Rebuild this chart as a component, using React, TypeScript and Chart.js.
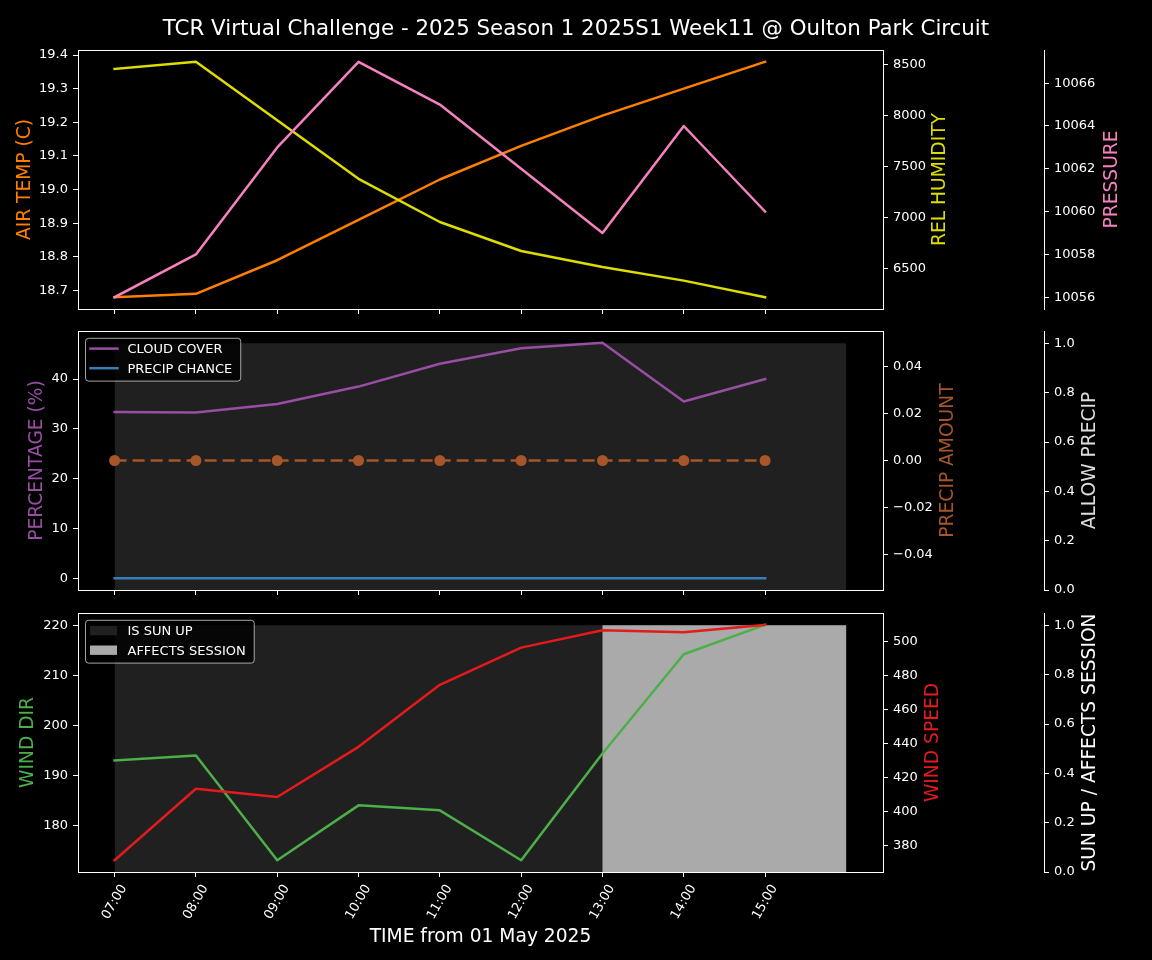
import React, { useEffect, useRef } from 'react';
import { Chart, registerables } from 'chart.js';

Chart.register(...registerables);

const FONT = "'DejaVu Sans', 'Liberation Sans', sans-serif";

// ---- categories ----
const timeLabels = ['07:00', '08:00', '09:00', '10:00', '11:00', '12:00', '13:00', '14:00', '15:00'];
const shadeLabels = ['07:00', '08:00', '09:00', '10:00', '11:00', '12:00', '13:00', '14:00', '15:00', '16:00'];

// ---- panel 1 ----
const airTemp = [18.68, 18.69, 18.79, 18.91, 19.03, 19.13, 19.22, 19.3, 19.38];
const relHumidity = [8458, 8529, 7955, 7379, 6955, 6670, 6513, 6379, 6216];
const pressure = [10056, 10058, 10063, 10067, 10065, 10062, 10059, 10064, 10060];

// ---- panel 2 ----
const cloudCover = [33.4, 33.3, 35.0, 38.5, 43.1, 46.2, 47.3, 35.5, 40.0];
const precipChance = [0, 0, 0, 0, 0, 0, 0, 0, 0];
const precipAmount = [0, 0, 0, 0, 0, 0, 0, 0, 0];
const allowPrecip = [1, 1, 1, 1, 1, 1, 1, 1, 1, 1];

// ---- panel 3 ----
const windDir = [193, 194, 173, 184, 183, 173, 194.4, 214.3, 220.2];
const windSpeed = [371.5, 413.4, 408.6, 438.0, 474.4, 496.2, 506.4, 505.2, 509.6];
const isSunUp = [1, 1, 1, 1, 1, 1, 1, 1, 1, 1];
const affectsSession = [0, 0, 0, 0, 0, 0, 1, 1, 1, 1];

// ---- tick values ----
const airTempTicks = [18.7, 18.8, 18.9, 19.0, 19.1, 19.2, 19.3, 19.4];
const humidityTicks = [6500, 7000, 7500, 8000, 8500];
const pressureTicks = [10056, 10058, 10060, 10062, 10064, 10066];
const percentTicks = [0, 10, 20, 30, 40];
const precipAmountTicks = [-0.04, -0.02, 0, 0.02, 0.04];
const unitTicks = [0, 0.2, 0.4, 0.6, 0.8, 1.0];
const windDirTicks = [180, 190, 200, 210, 220];
const windSpeedTicks = [380, 400, 420, 440, 460, 480, 500];

const TITLE = 'TCR Virtual Challenge - 2025 Season 1 2025S1 Week11 @ Oulton Park Circuit';
const X_TITLE = 'TIME from 01 May 2025';

const LW = 2.5;

function autoRange(values: number[]): [number, number] {
  let lo = Math.min(...values);
  let hi = Math.max(...values);
  if (hi - lo === 0) {
    lo -= 0.05;
    hi += 0.05;
  }
  const r = hi - lo;
  return [lo - 0.05 * r, hi + 0.05 * r];
}

const pts = (vals: number[]) => vals.map((y, i) => ({ x: i, y }));

const fmt = (d: number) => (v: number) => {
  const s = Math.abs(v).toFixed(d);
  return v < -1e-12 ? '\u2212' + s : s;
};

function yAxis(pos: 'left' | 'right', range: [number, number], ticks: number[], f: (v: number) => string, width: number, weight: number, border = false) {
  return {
    type: 'linear',
    position: pos,
    min: range[0],
    max: range[1],
    bounds: 'data',
    weight,
    afterBuildTicks: (s: any) => {
      s.ticks = ticks.map((v) => ({ value: v }));
    },
    afterFit: (s: any) => {
      s.width = width;
      s.paddingTop = 0;
      s.paddingBottom = 0;
    },
    ticks: { color: '#ffffff', font: { family: FONT, size: 13 }, padding: 5, autoSkip: false, callback: (v: any) => f(Number(v)) },
    grid: { display: true, drawOnChartArea: false, drawTicks: true, tickLength: 5, color: '#ffffff', lineWidth: 1 },
    border: { display: border, color: '#ffffff', width: 1 },
  };
}

function xAxis(height: number) {
  const r = autoRange(shadeLabels.map((_, i) => i));
  return {
    type: 'linear',
    position: 'bottom',
    min: r[0],
    max: r[1],
    bounds: 'data',
    afterBuildTicks: (s: any) => {
      s.ticks = timeLabels.map((_, i) => ({ value: i }));
    },
    afterFit: (s: any) => {
      s.height = height;
      s.paddingLeft = 0;
      s.paddingRight = 0;
    },
    ticks: { display: false, autoSkip: false },
    grid: { display: true, drawOnChartArea: false, drawTicks: true, tickLength: 5, color: '#ffffff', lineWidth: 1 },
    border: { display: false },
  };
}

function line(label: string, data: number[], color: string, yAxisID: string, order: number, extra: any = {}) {
  return {
    label,
    data: pts(data),
    borderColor: color,
    backgroundColor: color,
    yAxisID,
    xAxisID: 'x',
    order,
    borderWidth: LW,
    pointRadius: 0,
    fill: false,
    tension: 0,
    borderJoinStyle: 'round',
    borderCapStyle: 'square',
    ...extra,
  };
}

function shade(label: string, data: number[], color: string, yAxisID: string, order: number) {
  return {
    label,
    data: pts(data),
    borderColor: 'rgba(0,0,0,0)',
    backgroundColor: color,
    borderWidth: 0,
    pointRadius: 0,
    fill: 'origin',
    stepped: 'before',
    yAxisID,
    xAxisID: 'x',
    order,
  };
}

type Decor = {
  axisTitles: { id: string; text: string; color: string; dx: number }[];
  legend?: { idx: number[]; kind: 'line' | 'patch' };
  title?: boolean;
  xLabels?: boolean;
};

function decorPlugin(d: Decor) {
  return {
    id: 'decor',
    afterDraw(chart: any) {
      const ctx: CanvasRenderingContext2D = chart.ctx;
      const ca = chart.chartArea;
      // frame
      ctx.save();
      ctx.strokeStyle = '#ffffff';
      ctx.lineWidth = 1;
      const l = Math.round(ca.left), t = Math.round(ca.top), r = Math.round(ca.right), b = Math.round(ca.bottom);
      ctx.strokeRect(l + 0.5, t + 0.5, r - l, b - t);
      ctx.restore();

      // axis titles
      const afs = 18.67;
      d.axisTitles.forEach((a) => {
        const sc = chart.scales[a.id];
        ctx.save();
        ctx.font = `${afs}px ${FONT}`;
        ctx.fillStyle = a.color;
        ctx.textAlign = 'center';
        ctx.textBaseline = 'alphabetic';
        ctx.translate(sc.left + a.dx + 0.3645 * afs, (ca.top + ca.bottom) / 2);
        ctx.rotate(-Math.PI / 2);
        ctx.fillText(a.text, 0, 0);
        ctx.restore();
      });

      // legend
      if (d.legend) {
        const fs = 13;
        ctx.save();
        ctx.font = `${fs}px ${FONT}`;
        const ds = d.legend.idx.map((i) => chart.data.datasets[i]);
        const textX = ca.left + 49.5;
        const maxW = Math.max(...ds.map((x: any) => ctx.measureText(x.label).width));
        const bx = ca.left + 7.5;
        const by = ca.top + 7.3;
        const bw = textX + maxW + 8.5 - bx;
        const bh = 42.8;
        ctx.beginPath();
        (ctx as any).roundRect(bx, by, bw, bh, 3);
        ctx.fillStyle = 'rgba(0,0,0,0.8)';
        ctx.fill();
        ctx.strokeStyle = 'rgba(204,204,204,0.8)';
        ctx.lineWidth = 1;
        ctx.stroke();
        ds.forEach((x: any, k: number) => {
          const ry = ca.top + 17.6 + k * 19.6;
          if (d.legend!.kind === 'line') {
            ctx.strokeStyle = x.borderColor;
            ctx.lineWidth = LW;
            ctx.beginPath();
            ctx.moveTo(ca.left + 11.3, ry);
            ctx.lineTo(ca.left + 40.7, ry);
            ctx.stroke();
          } else {
            ctx.fillStyle = x.backgroundColor;
            ctx.fillRect(ca.left + 12, ry - 4.7, 27, 9.4);
          }
          ctx.fillStyle = '#ffffff';
          ctx.textAlign = 'left';
          ctx.textBaseline = 'alphabetic';
          ctx.fillText(x.label, textX, ry + 0.3645 * fs);
        });
        ctx.restore();
      }

      // figure title
      if (d.title) {
        ctx.save();
        ctx.font = `21.33px ${FONT}`;
        ctx.fillStyle = '#ffffff';
        ctx.textAlign = 'center';
        ctx.textBaseline = 'alphabetic';
        ctx.fillText(TITLE, chart.width / 2, 35);
        ctx.restore();
      }

      // x tick labels + x title
      if (d.xLabels) {
        const xs = chart.scales.x;
        ctx.save();
        ctx.font = `13px ${FONT}`;
        ctx.fillStyle = '#ffffff';
        ctx.textAlign = 'center';
        ctx.textBaseline = 'middle';
        const ang = Math.PI / 3;
        const h = 13 * 1.164;
        const top = ca.bottom + 10;
        timeLabels.forEach((lab, i) => {
          const px = xs.getPixelForValue(i);
          const w = ctx.measureText(lab).width;
          const bh = w * Math.sin(ang) + h * Math.cos(ang);
          ctx.save();
          ctx.translate(px, top + bh / 2);
          ctx.rotate(-ang);
          ctx.fillText(lab, 0, 0);
          ctx.restore();
        });
        ctx.font = `18.67px ${FONT}`;
        ctx.textBaseline = 'alphabetic';
        ctx.fillText(X_TITLE, (ca.left + ca.right) / 2, ca.bottom + 69.5);
        ctx.restore();
      }
    },
  };
}

function baseOptions(padTop: number, xHeight: number, scales: any) {
  return {
    responsive: false,
    maintainAspectRatio: false,
    animation: false,
    devicePixelRatio: 1,
    events: [],
    layout: { padding: { top: padTop, left: 0, right: 0, bottom: 0 } },
    plugins: { legend: { display: false }, tooltip: { enabled: false }, title: { display: false } },
    scales: { x: xAxis(xHeight), ...scales },
  };
}

function panel1(): any {
  return {
    type: 'line',
    data: {
      datasets: [
        line('AIR TEMP', airTemp, '#ff7f00', 'y', 3),
        line('REL HUMIDITY', relHumidity, '#dddd00', 'y1', 2),
        line('PRESSURE', pressure, '#f781bf', 'y2', 1),
      ],
    },
    options: baseOptions(50, 11, {
      y: yAxis('left', autoRange(airTemp), airTempTicks, fmt(1), 78, 0),
      y1: yAxis('right', autoRange(relHumidity), humidityTicks, fmt(0), 161, 1),
      y2: yAxis('right', autoRange(pressure), pressureTicks, fmt(0), 108, 2, true),
    }),
    plugins: [
      decorPlugin({
        title: true,
        axisTitles: [
          { id: 'y', text: 'AIR TEMP (C)', color: '#ff7f00', dx: 23.5 },
          { id: 'y1', text: 'REL HUMIDITY', color: '#dddd00', dx: 55.5 },
          { id: 'y2', text: 'PRESSURE', color: '#f781bf', dx: 66 },
        ],
      }),
    ],
  };
}

function panel2(): any {
  return {
    type: 'line',
    data: {
      datasets: [
        shade('ALLOW PRECIP', allowPrecip, '#202020', 'y2', 10),
        line('CLOUD COVER', cloudCover, '#984ea3', 'y', 3),
        line('PRECIP CHANCE', precipChance, '#377eb8', 'y', 2),
        line('PRECIP AMOUNT', precipAmount, '#a65628', 'y1', 1, {
          borderDash: [12, 6],
          borderCapStyle: 'butt',
          pointRadius: 5.5,
          pointBorderWidth: 0,
          pointBackgroundColor: '#a65628',
        }),
      ],
    },
    options: baseOptions(11, 10, {
      y: yAxis('left', autoRange([...cloudCover, ...precipChance]), percentTicks, fmt(0), 78, 0),
      y1: yAxis('right', autoRange(precipAmount), precipAmountTicks, fmt(2), 161, 1),
      y2: yAxis('right', [0, 1.05], unitTicks, fmt(1), 108, 2, true),
    }),
    plugins: [
      decorPlugin({
        legend: { idx: [1, 2], kind: 'line' },
        axisTitles: [
          { id: 'y', text: 'PERCENTAGE (%)', color: '#984ea3', dx: 35.5 },
          { id: 'y1', text: 'PRECIP AMOUNT', color: '#a65628', dx: 63 },
          { id: 'y2', text: 'ALLOW PRECIP', color: '#dddddd', dx: 44 },
        ],
      }),
    ],
  };
}

function panel3(): any {
  return {
    type: 'line',
    data: {
      datasets: [
        shade('IS SUN UP', isSunUp, '#202020', 'y2', 11),
        shade('AFFECTS SESSION', affectsSession, '#aaaaaa', 'y2', 10),
        line('WIND DIR', windDir, '#4daf4a', 'y', 2),
        line('WIND SPEED', windSpeed, '#e41a1c', 'y1', 1),
      ],
    },
    options: baseOptions(13, 88, {
      y: yAxis('left', autoRange(windDir), windDirTicks, fmt(0), 78, 0),
      y1: yAxis('right', autoRange(windSpeed), windSpeedTicks, fmt(0), 161, 1),
      y2: yAxis('right', [0, 1.05], unitTicks, fmt(1), 108, 2, true),
    }),
    plugins: [
      decorPlugin({
        legend: { idx: [0, 1], kind: 'patch' },
        xLabels: true,
        axisTitles: [
          { id: 'y', text: 'WIND DIR', color: '#4daf4a', dx: 26 },
          { id: 'y1', text: 'WIND SPEED', color: '#e41a1c', dx: 48 },
          { id: 'y2', text: 'SUN UP / AFFECTS SESSION', color: '#ffffff', dx: 44 },
        ],
      }),
    ],
  };
}

function Panel({ top, height, build }: { top: number; height: number; build: () => any }) {
  const ref = useRef<HTMLCanvasElement | null>(null);
  useEffect(() => {
    if (!ref.current) return;
    const chart = new Chart(ref.current, build());
    return () => chart.destroy();
  }, []);
  return (
    <canvas
      ref={ref}
      width={1152}
      height={height}
      style={{ position: 'absolute', left: 0, top, width: 1152, height, display: 'block' }}
    />
  );
}

export default function App() {
  return (
    <div style={{ position: 'absolute', left: 0, top: 0, width: 1152, height: 960, background: '#000000', overflow: 'hidden' }}>
      <Panel top={0} height={320} build={panel1} />
      <Panel top={320} height={280} build={panel2} />
      <Panel top={600} height={360} build={panel3} />
    </div>
  );
}
